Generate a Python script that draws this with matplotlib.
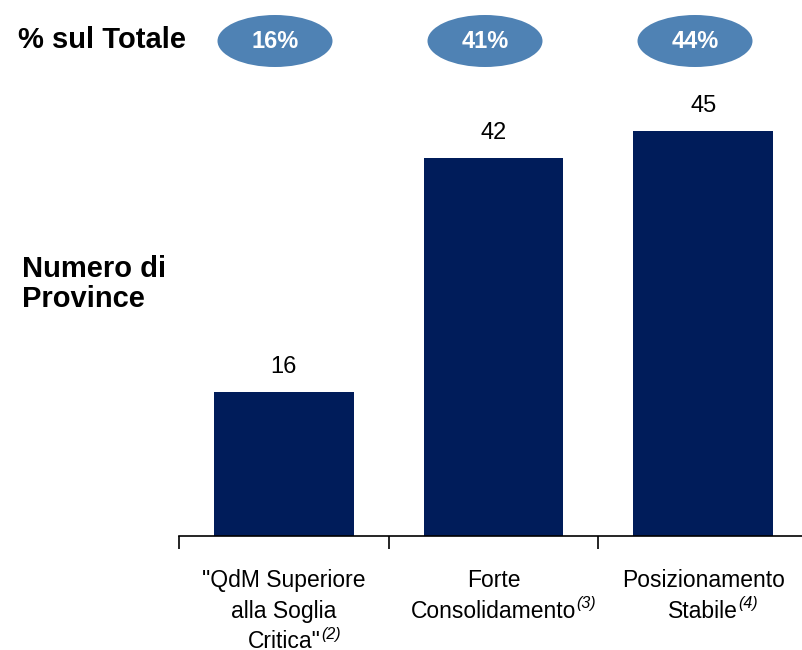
import matplotlib.pyplot as plt
from matplotlib.patches import Ellipse

plt.rcParams['font.family'] = ['Liberation Sans', 'DejaVu Sans']

categorie = ['"QdM Superiore\nalla Soglia\nCritica"',
             'Forte\nConsolidamento',
             'Posizionamento\nStabile']
note = ['(2)', '(3)', '(4)']
province = [16, 42, 45]
percentuali = ['16%', '41%', '44%']

fig = plt.figure(figsize=(8.02, 6.5), dpi=100)
ax = fig.add_axes([179/802, 114/650, 623/802, 450/650])

x = list(range(len(categorie)))
ax.bar(x, province, width=0.667, color='#001c5a')
for xi, v in zip(x, province):
    ax.text(xi, v + 1.6, str(v), ha='center', va='bottom', fontsize=17)

ax.set_xlim(-0.5, 2.471)
ax.set_ylim(0, 50)
for s in ['top', 'right', 'left']:
    ax.spines[s].set_visible(False)
ax.set_yticks([])
ax.set_xticks(x)
ax.set_xticklabels(categorie, fontsize=16.5, linespacing=1.41)
ax.tick_params(axis='x', which='major', length=0, pad=24)
ax.set_xticks([-0.5, 0.5, 1.5], minor=True)
ax.tick_params(axis='x', which='minor', length=9, width=1.2, direction='out')
ax.spines['bottom'].set_linewidth(1.2)

# ellissi in alto
for xi, p in zip(x, percentuali):
    cx = (283 + 210 * xi - 8) / 802
    e = Ellipse((cx, 1 - 41/650), 115/802, 52/650, transform=fig.transFigure,
                facecolor='#4f82b4', edgecolor='none')
    fig.patches.append(e)
    fig.text(cx, 1 - 41/650, p, ha='center', va='center', color='white',
             fontsize=17, fontweight='bold')

fig.text(18/802, 1 - 40/650, '% sul Totale', ha='left', va='center',
         fontsize=21, fontweight='bold')
fig.text(22/802, 1 - 284/650, 'Numero di\nProvince', ha='left', va='center',
         fontsize=21, fontweight='bold', linespacing=1.08)

# note in apice dopo l'ultima riga di ogni etichetta
fig.canvas.draw()
r = fig.canvas.get_renderer()
em = 16.5 * 100 / 72
for lab, n in zip(ax.get_xticklabels(), note):
    bb = lab.get_window_extent(r)
    ultima = lab.get_text().split('\n')[-1]
    t = fig.text(0, 0, ultima, fontsize=16.5)
    w = t.get_window_extent(r).width
    t.remove()
    cx = (bb.x0 + bb.x1) / 2
    fig.text((cx + w / 2 + 0.5) / 802, (bb.y0 + 0.93 * em + 5) / 650, n,
             ha='left', va='top', fontsize=11.5, style='italic')

fig.savefig('out.png', dpi=100)
